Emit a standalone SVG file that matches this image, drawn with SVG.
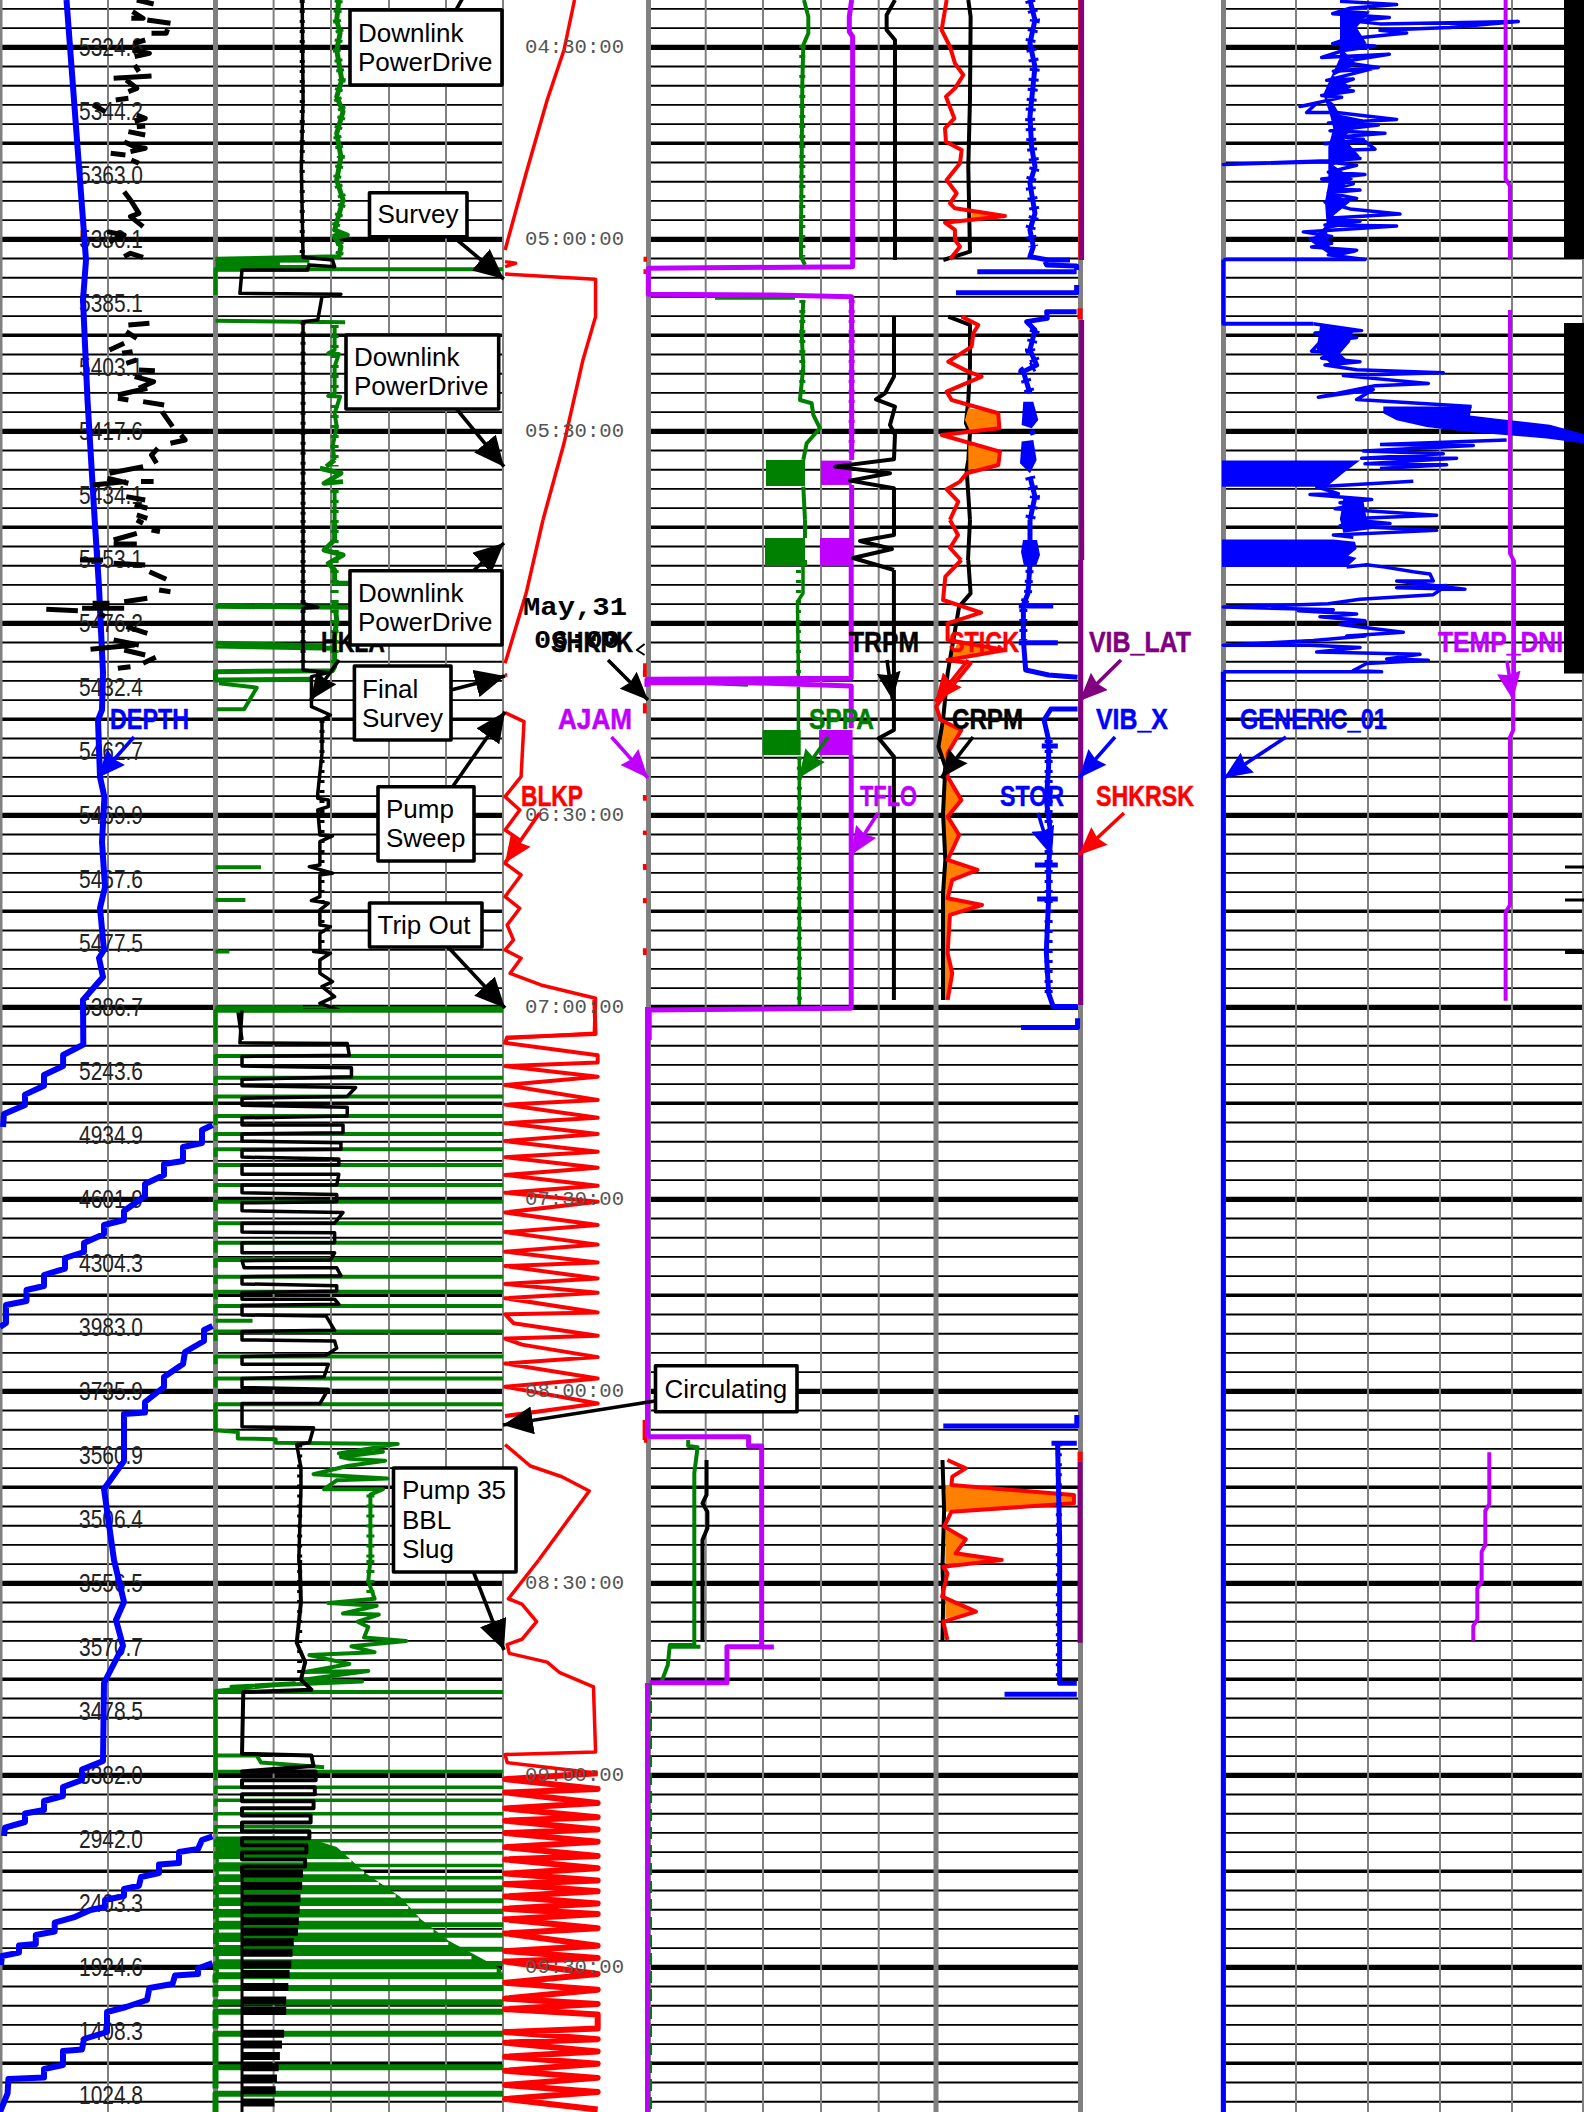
<svg xmlns="http://www.w3.org/2000/svg" width="1584" height="2112" viewBox="0 0 1584 2112">
<style>
path{vector-effect:non-scaling-stroke;stroke-linejoin:round;fill:none}
.thin{stroke:#000;stroke-width:1.9}.med{stroke:#000;stroke-width:3.6}.hvy{stroke:#000;stroke-width:5.2}
.vg{stroke:#808080;stroke-width:2}.sep{fill:#808080}
.dep{font:25px "Liberation Sans",Arial,sans-serif;fill:#222}
.tim{font:20px "Liberation Mono","Courier New",monospace;fill:#555}
.tb{font:bold 26px "Liberation Mono","Courier New",monospace;fill:#000}
.lab{font:bold 30px "Liberation Sans",Arial,sans-serif;stroke-width:.5}
.box{fill:#fff;stroke:#000;stroke-width:3.6;stroke-linejoin:round}
.bt{font:26px "Liberation Sans",Arial,sans-serif;fill:#000}
.k{stroke:#000}.g{stroke:#008000}.b{stroke:#00f}.r{stroke:#f00}.p{stroke:#bf00ff}.d{stroke:#800080}
.kf{fill:#000!important}.gf{fill:#008000!important}.bf{fill:#00f!important}.pf{fill:#bf00ff!important}.of{fill:#ff8000!important}.wf{fill:#fff!important}
.s2{stroke-width:2}.s3{stroke-width:3}.s35{stroke-width:3.5}.s4{stroke-width:4}.s5{stroke-width:5}.s6{stroke-width:6}.s8{stroke-width:8}.s10{stroke-width:10}
.j{stroke-dasharray:3 7}
.ar{stroke-width:3.6;fill:none}
</style>
<defs>
<marker id="mK" markerUnits="userSpaceOnUse" viewBox="0 0 30 28" refX="30" refY="14" markerWidth="30" markerHeight="28" orient="auto"><polygon points="0,0 30,14 0,28" fill="#000"/></marker>
<marker id="mk" markerUnits="userSpaceOnUse" viewBox="0 0 28 24" refX="28" refY="12" markerWidth="28" markerHeight="24" orient="auto"><polygon points="0,0 28,12 0,24 3,12" fill="#000"/></marker>
<marker id="mb" markerUnits="userSpaceOnUse" viewBox="0 0 28 24" refX="28" refY="12" markerWidth="28" markerHeight="24" orient="auto"><polygon points="0,0 28,12 0,24 3,12" fill="#00f"/></marker>
<marker id="mr" markerUnits="userSpaceOnUse" viewBox="0 0 28 24" refX="28" refY="12" markerWidth="28" markerHeight="24" orient="auto"><polygon points="0,0 28,12 0,24 3,12" fill="#f00"/></marker>
<marker id="mp" markerUnits="userSpaceOnUse" viewBox="0 0 28 24" refX="28" refY="12" markerWidth="28" markerHeight="24" orient="auto"><polygon points="0,0 28,12 0,24 3,12" fill="#bf00ff"/></marker>
<marker id="mg" markerUnits="userSpaceOnUse" viewBox="0 0 28 24" refX="28" refY="12" markerWidth="28" markerHeight="24" orient="auto"><polygon points="0,0 28,12 0,24 3,12" fill="#008000"/></marker>
<marker id="md" markerUnits="userSpaceOnUse" viewBox="0 0 28 24" refX="28" refY="12" markerWidth="28" markerHeight="24" orient="auto"><polygon points="0,0 28,12 0,24 3,12" fill="#800080"/></marker>
<g id="tile">
<path class="hvy" d="M0 0H1584"/>
<path class="med" d="M0 96H1584"/>
<path class="thin" d="M0 19.2H1584M0 38.4H1584M0 57.6H1584M0 76.8H1584M0 115.2H1584M0 134.4H1584M0 153.6H1584M0 172.8H1584"/>
</g>
</defs>
<rect width="1584" height="2112" fill="#fff"/>
<g id="grid">
<use href="#tile" y="-144.7"/><use href="#tile" y="47.3"/><use href="#tile" y="239.3"/><use href="#tile" y="431.3"/><use href="#tile" y="623.3"/><use href="#tile" y="815.3"/><use href="#tile" y="1007.3"/><use href="#tile" y="1199.3"/><use href="#tile" y="1391.3"/><use href="#tile" y="1583.3"/><use href="#tile" y="1775.3"/><use href="#tile" y="1967.3"/>
<rect x="503" width="143" height="2112" fill="#fff"/><rect x="1083" width="138" height="2112" fill="#fff"/>
<path class="vg" d="M108 0V2112M273.6 0V2112M331 0V2112M389 0V2112M446 0V2112M503 0V2112M705.7 0V2112M763 0V2112M821 0V2112M878.7 0V2112M1296 0V2112M1368 0V2112M1440 0V2112M1512 0V2112"/>
<rect class="sep" x="0" width="2.5" height="2112"/><rect class="sep" x="213" width="5" height="2112"/><rect class="sep" x="646" width="5" height="2112"/><rect class="sep" x="933.5" width="5" height="2112"/><rect class="sep" x="1078" width="5" height="2112"/><rect class="sep" x="1221" width="5" height="2112"/><rect class="sep" x="1582" width="2" height="2112"/>
<rect x="1564" y="0" width="20" height="259"/><rect x="1564" y="323" width="20" height="350.500"/>
<rect x="1565" y="865.500" width="19" height="3"/><rect x="1565" y="898.500" width="19" height="3"/><rect x="1565" y="950" width="19" height="4"/>
</g>
<g id="depth-scale">
<text class="dep" x="79" y="56" textLength="64" lengthAdjust="spacingAndGlyphs">5324.6</text>
<text class="dep" x="79" y="120" textLength="64" lengthAdjust="spacingAndGlyphs">5344.2</text>
<text class="dep" x="79" y="184" textLength="64" lengthAdjust="spacingAndGlyphs">5363.0</text>
<text class="dep" x="79" y="248" textLength="64" lengthAdjust="spacingAndGlyphs">5380.1</text>
<text class="dep" x="79" y="312" textLength="64" lengthAdjust="spacingAndGlyphs">5385.1</text>
<text class="dep" x="79" y="376" textLength="64" lengthAdjust="spacingAndGlyphs">5403.1</text>
<text class="dep" x="79" y="440" textLength="64" lengthAdjust="spacingAndGlyphs">5417.6</text>
<text class="dep" x="79" y="504" textLength="64" lengthAdjust="spacingAndGlyphs">5434.1</text>
<text class="dep" x="79" y="568" textLength="64" lengthAdjust="spacingAndGlyphs">5453.1</text>
<text class="dep" x="79" y="632" textLength="64" lengthAdjust="spacingAndGlyphs">5476.2</text>
<text class="dep" x="79" y="696" textLength="64" lengthAdjust="spacingAndGlyphs">5432.4</text>
<text class="dep" x="79" y="760" textLength="64" lengthAdjust="spacingAndGlyphs">5462.7</text>
<text class="dep" x="79" y="824" textLength="64" lengthAdjust="spacingAndGlyphs">5469.9</text>
<text class="dep" x="79" y="888" textLength="64" lengthAdjust="spacingAndGlyphs">5467.6</text>
<text class="dep" x="79" y="952" textLength="64" lengthAdjust="spacingAndGlyphs">5477.5</text>
<text class="dep" x="79" y="1016" textLength="64" lengthAdjust="spacingAndGlyphs">5386.7</text>
<text class="dep" x="79" y="1080" textLength="64" lengthAdjust="spacingAndGlyphs">5243.6</text>
<text class="dep" x="79" y="1144" textLength="64" lengthAdjust="spacingAndGlyphs">4934.9</text>
<text class="dep" x="79" y="1208" textLength="64" lengthAdjust="spacingAndGlyphs">4601.9</text>
<text class="dep" x="79" y="1272" textLength="64" lengthAdjust="spacingAndGlyphs">4304.3</text>
<text class="dep" x="79" y="1336" textLength="64" lengthAdjust="spacingAndGlyphs">3983.0</text>
<text class="dep" x="79" y="1400" textLength="64" lengthAdjust="spacingAndGlyphs">3735.9</text>
<text class="dep" x="79" y="1464" textLength="64" lengthAdjust="spacingAndGlyphs">3560.9</text>
<text class="dep" x="79" y="1528" textLength="64" lengthAdjust="spacingAndGlyphs">3506.4</text>
<text class="dep" x="79" y="1592" textLength="64" lengthAdjust="spacingAndGlyphs">3556.5</text>
<text class="dep" x="79" y="1656" textLength="64" lengthAdjust="spacingAndGlyphs">3570.7</text>
<text class="dep" x="79" y="1720" textLength="64" lengthAdjust="spacingAndGlyphs">3478.5</text>
<text class="dep" x="79" y="1784" textLength="64" lengthAdjust="spacingAndGlyphs">3382.0</text>
<text class="dep" x="79" y="1848" textLength="64" lengthAdjust="spacingAndGlyphs">2942.0</text>
<text class="dep" x="79" y="1912" textLength="64" lengthAdjust="spacingAndGlyphs">2403.3</text>
<text class="dep" x="79" y="1976" textLength="64" lengthAdjust="spacingAndGlyphs">1924.6</text>
<text class="dep" x="79" y="2040" textLength="64" lengthAdjust="spacingAndGlyphs">1408.3</text>
<text class="dep" x="79" y="2104" textLength="64" lengthAdjust="spacingAndGlyphs">1024.8</text>
</g>
<g id="curves">
<path class="b s6" d="M66.500 0L86 260L83 300L87.500 400L94.700 520L99 587L103 673L102 710L98 720L100 777L104.400 797L102 842L105 887L100 908L104 950L99 958L103 977L83 1000L83.300 1044.600L63.100 1055L63.100 1066L44 1075L44 1085.700L25 1094.600L25 1105L4 1114L3 1127M212.500 1125L202 1130L202 1143L183 1147L183 1161L164 1164L164 1175L145 1184L145 1196L124 1211L124 1220L104 1225L104 1234L84 1243L84 1252L65 1258L65 1268.600L44 1275L44 1286L26.500 1290L26.500 1301L6 1305L6 1323L0 1327M212.500 1326L204 1330L204 1341L185 1352L183 1364L164 1377L164 1387L145 1402L145 1412.500L124 1414L124 1461L104 1489L114 1560L124 1602L116 1620L123 1646L104 1683L103 1761L82 1769.500L82 1780L63 1787L63 1796L44 1801L44 1810L25 1813.500L25 1822L5 1827.600L4 1836M212.500 1836.400L202 1840L198 1849L179 1852L179 1863L159 1864.600L159 1873L141 1877L139 1885.700L124 1889L124 1896L105 1900L105 1907L90.500 1910L73.600 1917.400L54.700 1922.700L54.700 1931.500L35.800 1935L35.800 1944L19 1945.600L19 1952.600L2 1956L1 1965M212.500 1963L198 1968.500L198 1974L175 1975.600L172.500 1984L149.400 1988L147 2000L126 2007L107 2012L107 2032L84 2039L82 2049.400L63 2051L63 2065L44 2069L44 2077.600L8.400 2079L7.600 2093.400L0 2112"/>
<g transform="scale(.4209 .3333)">
<path class="k s5" d="M325 0L365 12M315 35L340 55L312 55M350 60L405 70M360 100L395 100L398 88M318 130L345 120M315 150L355 160L320 170M320 195L330 215M270 235L360 228M300 240L325 265L305 275M275 300L305 295M222 315L250 335M325 345L345 355L320 365M325 380L345 378M305 395L345 405M295 425L320 440L345 445L310 455M263 460L298 465M312 480L330 490M295 575L310 600L320 620L330 640L310 650L340 680M255 695L295 705L260 725M295 770L310 760L340 772M305 975L355 970M300 995L325 1015M260 1050L295 1030M290 1060L315 1055M325 1080L300 1090M330 1110L368 1112M320 1130L365 1145L330 1165M280 1185L350 1165M280 1195L305 1200M340 1205L390 1215M385 1235L410 1280M405 1330L440 1320L430 1305M375 1345L360 1365L372 1390M260 1420L340 1400M255 1435L305 1450M220 1455L300 1445M335 1445L365 1445M300 1490L345 1500M320 1515L350 1525M325 1545L350 1555"/>
<path class="g s5" d="M805 0L800 60L808 100L800 150L812 240L800 290L815 335L800 400L810 470L800 540L815 600L795 690L825 705L795 712L810 740L805 770L512 778"/>
<path class="g s8 j" d="M805 0L800 60L808 100L800 150L812 240L800 290L815 335L800 400L810 470L800 540L815 600L795 690L810 740L805 770M795 975V1400M795 1470V1560"/>
<path class="g s5" d="M760 1405L810 1420L770 1450L815 1445M775 1400L795 1380"/>
<path class="gf" d="M512 775H735V815H512Z"/><path class="wf" d="M665 788H730V795H665Z"/>
<path class="g s4" d="M1195 808H512V885M512 962L820 967M795 975L795 1050L780 1060L805 1062L795 1100L795 1180L780 1188L808 1190L795 1240L800 1280L790 1340L795 1380M795 1470L795 1560"/>
<path class="k s35" d="M718 0L720 300L716 500L720 772L790 780L795 800L735 795L730 810L575 810L570 880L810 883L765 890L755 960L720 965L720 1560"/>
<path class="k s5 j" d="M718 0V770M720 965V1560"/>
<path class="r s35" d="M1365 0L1340 150L1300 300L1250 520L1200 750M1200 785L1225 790L1200 800M1200 822L1415 838L1415 950L1385 1080L1340 1330L1290 1560M1533 770V785M1533 808V822"/>
</g>
<g transform="translate(0 520) scale(.4209 .3333)">
<path class="k s5" d="M325 0L340 10M360 30L380 35M270 60L325 40M270 72L325 72M190 120L245 120M270 130L345 135M355 155L395 178M378 210L405 215M295 245L350 235M220 250L260 250M110 268L185 272M195 265L295 265M235 280L250 290M300 320L350 340M215 388L320 375M270 360L330 375M295 390L345 405M340 430L370 412M280 445L310 440"/>
<path class="g s5" d="M795 0L795 60L770 90L815 105L780 130L795 150L795 190L830 190M512 259L830 262M795 240L800 300L795 350L795 440L790 452L512 455V480L740 478M512 370L770 378M512 378L795 385"/>
<path class="g s8 j" d="M795 0V440"/>
<path class="g s4" d="M520 490L610 503L580 568L515 568M512 1042H620M512 1140H583M512 1295H545M512 1465H1195"/>
<path class="k s35" d="M720 0L720 250L755 262L720 265L720 450L780 458L740 470L740 560L785 585L765 600L765 700L755 820L755 835L780 840L780 860L755 870L760 945L790 948L760 965L760 1035L735 1040L790 1060L760 1065L760 1130L740 1142L780 1150L760 1170L760 1215L785 1220L760 1240L760 1295L745 1295L785 1300L760 1320L760 1360L790 1385L765 1400L795 1430L760 1450L805 1470L565 1472L575 1560"/>
<path class="k s5 j" d="M720 0V450M765 600V1295"/>
<path class="r s35" d="M1290 0L1250 220L1200 430M1200 465H1205M1200 578L1245 605L1238 770L1200 830L1235 870L1200 930L1235 960L1200 1030L1238 1065L1200 1130L1235 1165L1205 1215L1220 1260L1200 1290L1238 1315L1212 1360L1285 1395L1415 1435L1412 1540L1205 1555M1532 430V470M1532 555V580M1532 828V842M1532 932V945M1532 1038V1050M1532 1135V1150M1532 1290V1305"/>
</g>
<g transform="translate(0 1000) scale(.4209 .3571)">
<path class="g s4" d="M512 20H720M1195 30H512V120M1195 157H512V185M1195 218H512V240M1195 270H512V295M1195 325H512V350M1195 375H512V395M1195 418H512V440M1195 462H512V488M1195 518H512V540M1195 565H512V590M1195 625H512V650M1195 680H512V708M1195 728H512V750M1195 775H512V795M1195 817H512V838M1195 857H512V885M1195 928H512V955M512 898H600M1195 998H512V1020M1195 1060H512V1085M1195 1132H512V1205L565 1210L565 1228L655 1230L655 1240L945 1243L805 1270L910 1265L810 1280L830 1285L915 1290L825 1305L745 1328L920 1340L800 1345L770 1370L910 1370L880 1385L880 1568"/>
<path class="g s8 j" d="M880 1385V1568"/>
<path class="k s35" d="M575 30L570 120L825 122L830 155L575 158L575 185L835 190L835 215L575 222L575 240L845 245L825 270L575 275L575 295L825 300L825 325L575 330L575 350L815 350L815 372L575 375L575 395L810 400L810 418L575 420L575 440L805 445L805 462L575 462L575 488L805 488L800 518L575 518L575 540L800 545L800 565L575 568L575 590L815 595L795 625L575 625L575 650L795 652L795 680L575 680L575 708L795 708L785 728L575 730L580 750L800 750L810 772L575 775L575 795L800 800L800 815L575 820L575 838L795 838L805 852L575 855L575 882L775 885L795 925L575 928L575 952L795 955L800 975L775 995L575 998L575 1020L780 1020L770 1055L575 1060L575 1085L780 1090L760 1130L575 1130L575 1195L745 1198L735 1240L705 1245L715 1310L715 1370L710 1568"/>
<path class="k s5 j" d="M712 1245V1568"/>
<path class="r s4" d="M1412 0L1415 95L1205 105L1200 120L1420 155L1420 175L1200 185L1420 215L1200 238L1420 280L1200 293L1420 330L1200 345L1420 375L1200 395L1420 425L1200 440L1420 470L1200 490L1420 520L1200 540L1420 565L1200 595L1420 630L1200 650L1420 685L1200 705L1420 735L1200 745L1420 780L1200 795L1420 820L1200 835L1420 875L1200 880L1220 905L1420 940L1200 948L1240 965L1420 1000L1200 1018L1420 1060L1200 1083L1420 1130L1200 1165"/>
<path class="r s35" d="M1200 1245L1260 1305L1335 1335L1400 1375L1280 1568M1534 1185V1240"/>
</g>
<g transform="translate(0 1560) scale(.4209 .3523)">
<path class="g s4" d="M880 0L875 60L890 110L780 122L895 130L815 152L900 155L850 175L875 190L865 220L965 230L835 245L890 262L735 270L830 295L725 318L875 315L720 340L860 345L550 360L700 350L512 372V600M1195 375H512M512 555H610L620 575L770 588"/>
<path class="g s8 j" d="M880 0V110"/>
<path class="gf" d="M512 785H720L800 815L870 890L950 955L1000 1020L1065 1080L1190 1160L1195 1190H512Z"/>
<path class="wf" d="M520 849H835v9H520ZM520 884H865v8H520ZM520 914H900v9H520ZM520 949H940v9H520ZM520 982H970v9H520ZM520 1015H995v9H520ZM520 1049H1030v9H520ZM520 1084H1065v9H520ZM520 1124H1120v9H520ZM520 1162H1180v8H520Z"/>
<path class="g s35" d="M1195 600H512V625M1195 645H512V665M1195 682H512V700M1195 720H512V740M1195 757H512V778M1195 797H512V815M1195 832H512V850M1195 867H512V885M1195 902H512V920"/>
<path class="g s5" d="M1195 930H512V950M1195 967H512V985M1195 998H512V1020M1195 1035H512V1050M1195 1065H512V1090M1195 1105H512V1125M1195 1145H512V1165"/>
<path class="g s6" d="M1195 1180H512V1200M1195 1215H512V1240M1195 1255H512V1270M1195 1282H512V1330M1195 1345H512V1430M1195 1440H512V1500M1195 1515H512V1568"/>
<path class="k s4" d="M712 0L715 120L705 235L725 290L715 340L740 368L578 375L575 550L740 555L745 585L575 600H750V625H575V645H748V665H575V685H745V705H575V725H738V745H575V770H735V790H575V810H728V830H575V850H725V870H575V890"/>
<path class="k s5 j" d="M712 0V340"/>
<path class="k s3" d="M575 880V1568"/>
<path class="k s8" d="M575 890H720M575 925H718M575 960H714M575 993H712M575 1025H710M575 1055H708M575 1085H698M575 1115H695M575 1148H692M575 1175H688M575 1212H685M575 1250H680M575 1280H680M575 1345H675M575 1375H670M575 1408H665M575 1440H662M575 1472H658M575 1505H655M575 1540H652"/>
<path class="r s35" d="M1280 0L1208 110L1240 125L1275 175L1240 225L1205 240L1210 265L1300 290L1330 320L1410 360L1415 545L1200 552L1205 575L1420 605"/>
<path class="r s6" d="M1420 605L1200 622L1420 650L1200 660L1420 690L1200 705L1420 730L1200 740L1420 765L1200 775L1420 800L1200 815L1420 840L1200 850L1420 875L1200 890L1420 910L1200 920L1420 940L1200 955L1420 975L1200 990L1420 1005L1200 1020L1420 1045L1200 1060L1420 1095L1200 1110L1420 1130L1200 1140L1420 1175L1200 1200L1420 1220L1200 1245L1420 1260L1200 1275L1420 1290V1330L1200 1340L1420 1360L1200 1370L1420 1395L1200 1410L1420 1430L1200 1450L1420 1470L1200 1490L1420 1510L1200 1530L1420 1560"/>
</g>
<g id="track3" transform="translate(640 0) scale(.3333 .3333)">
<path class="g s4" d="M492 0L505 50L505 100L490 135L487 250L485 500L483 700L483 770L495 795M490 900L485 1000L490 1100L480 1200L515 1210L520 1245L540 1285L500 1330L490 1380M490 1460L495 1560M225 893H465"/>
<path class="g s6 j" d="M487 135V770M487 900V1200"/>
<path class="gf" d="M378 1380H495V1458H378Z"/><path class="pf" d="M543 1382H635V1455H543Z"/>
<path class="p s5" d="M635 0L628 50L628 95L638 110L638 800L25 805L25 883L400 885L635 890L635 1380M635 1455V1560"/>
<path class="p s6 j" d="M635 900V1380"/>
<path class="k s4" d="M765 0L740 45L740 90L765 120L765 780M762 950L762 1130L735 1180L708 1198L765 1220L750 1275L765 1305L762 1378L585 1400L750 1420L630 1442L762 1465L762 1560M985 0L992 50L990 300L985 500L990 755L910 780M925 950L990 975L990 1100L985 1200L978 1270L990 1300L985 1380L980 1410L990 1560"/>
<path class="of" d="M995 632L1095 648L995 665ZM985 1225L1075 1240L1078 1285L990 1293L975 1260ZM985 1335L1080 1355L1075 1395L985 1410Z"/>
<path class="r s4" d="M920 0L905 90L930 140L945 190L970 225L945 265L918 290L943 355L915 385L918 425L965 450L960 490L920 540L950 580L930 610L945 625L1095 648L915 668L945 690L945 720L960 740L930 778M965 950L1015 975L1000 1000L995 1040L925 1085L985 1115L1025 1130L920 1175L935 1200L1075 1240L1078 1285L905 1305L1080 1355L1075 1395L980 1420L960 1445L920 1468L955 1505L930 1560"/>
<path class="b s5" d="M1170 0L1185 60L1170 130L1185 200L1175 300L1170 350L1175 440L1185 500L1170 550L1185 640L1170 690L1180 740L1170 770L1225 780H1290M1215 785L1220 795L1310 798V810M1012 815H1310M948 878H1310V855M1310 935H1220L1222 955L1160 965L1185 990L1170 1050L1190 1095L1150 1115L1170 1180M1185 1295L1170 1300M1170 1430L1185 1490L1170 1560"/>
<path class="b s10 j" d="M1170 0L1185 60L1170 130L1185 200L1175 300L1170 350L1175 440L1185 500L1170 550L1185 640L1170 690L1180 740M1185 990L1170 1050L1190 1095L1150 1115L1170 1180M1170 1430L1185 1490L1170 1560"/>
<path class="bf" d="M1150 1205H1180L1195 1260L1175 1285L1145 1275ZM1145 1325L1180 1320L1190 1380L1170 1420L1140 1390Z"/>
<path class="r s2" d="M1318 0V780"/>
<path class="d s5" d="M1325 0V780M1325 960V1560"/>
<path class="r s5" d="M1320 925V958"/>
</g>
<g id="track-gap">
<path class="gf" d="M765 538H805V566H765Z"/><path class="pf" d="M820 538H851V566H820Z"/>
<path class="g s4" d="M805 520V538M805 566V560"/>
<path class="p s5" d="M851.700 520V560"/>
<path class="k s4" d="M894 520V535L860 541L892 549L853 558L894 570M970 520L968 560"/>
<path class="r s4" d="M950 520L958 535L950 548L961 560"/>
<path class="b s5" d="M1030 520V540"/>
<path class="bf" d="M1023 540H1037L1040 555L1036 566H1024L1021 552Z"/>
<path class="d s5" d="M1081.700 520V560"/>
</g>
<g transform="translate(500 560) scale(.4591 .3333)">
<path class="g s35" d="M660 0L660 100L648 125L650 350M320 362L540 375M650 380V510M652 590V1335"/>
<path class="g s5 j" d="M650 0V350M652 590V1335"/>
<path class="gf" d="M572 510H655V585H572Z"/><path class="pf" d="M695 510H768V585H695Z"/>
<path class="p s5" d="M765 0V355L320 358V380M320 368H540L765 378V505M765 585V1345L325 1350V1440"/>
<path class="k s4" d="M858 30V510L825 535L858 590V1320"/>
<path class="of" d="M1000 240L1100 270L980 295ZM970 480L1005 510L975 580L975 650L1005 720L975 770L1000 825L975 900L1040 930L985 960L975 1015L1050 1035L980 1065L975 1180L985 1240L975 1320L965 1320L965 1000L970 900L965 760L970 620L955 560Z"/>
<path class="k s4" d="M1020 0L1025 100L1000 140L975 340L965 480L955 560L970 620L965 760L970 900L965 1000L965 1320"/>
<path class="r s4" d="M1005 0L970 50L965 120L1048 158L975 190L975 240L1100 270L975 300L1025 310L960 420L950 440L960 480L1005 510L975 580L975 650L1005 720L975 770L1000 825L975 900L1040 930L985 960L975 1015L1050 1035L980 1065L975 1180L985 1240L975 1320"/>
<path class="b s5" d="M1155 0L1150 100L1140 135M1130 138H1205M1140 135L1140 240M1130 248H1215M1140 240L1145 330L1195 345L1258 352M1258 447H1200L1185 480L1195 540M1180 558H1215M1195 540L1195 620L1190 720L1200 825L1195 915M1165 915H1215M1195 915V1015M1170 1017H1215M1195 1015L1190 1175L1195 1300L1205 1340H1258M1135 1403H1258V1375"/>
<path class="b s8 j" d="M1155 0L1150 100L1140 135V240M1195 540V1300"/>
<path class="d s5" d="M1265 0V1335"/>
<path class="k s2" d="M315 252L298 270L315 285"/>
<path class="r s35" d="M315 330V350M315 430V460M315 705V720M315 812V825M315 912V925M315 1015V1028M315 1165V1180"/>
</g>
<g transform="translate(480 1340) scale(.4082 .3333)">
<path class="g s4" d="M510 300L510 318L533 322L525 400L525 915H465L460 975L445 1025M465 920H540"/>
<path class="p s5" d="M412 290H658V318H690V920H605V1028H415M690 921H720"/>
<path class="k s4" d="M555 360V465L545 490L557 515V565L545 600V905"/>
<path class="of" d="M1140 435L1455 465V490L1155 515H1140ZM1140 570L1190 598L1165 640L1278 660L1140 672ZM1140 775L1215 815L1140 835Z"/>
<path class="k s4" d="M1133 360L1137 510L1133 680L1135 760L1133 900"/>
<path class="r s4" d="M1145 360L1190 385L1157 410L1155 435L1455 465V490L1155 515L1137 560L1190 598L1165 640L1278 660L1135 680L1145 700L1132 770L1215 815L1135 845L1145 900"/>
<path class="b s5" d="M1135 258H1462V225M1400 310H1462M1415 310L1420 600L1420 1030H1462M1285 1063H1462"/>
<path class="b s6 j" d="M1418 310V1030"/>
<path class="r s5" d="M1470 335V365"/><path class="d s5" d="M1470 365V908"/>
<path class="r s3" d="M402 240V300"/>
</g>
<path class="p s5" d="M647.500 1007V1437M647.500 1683V2112"/>
<path class="g s2" d="M651 1683V2112" stroke-dasharray="12 6"/>
<g transform="translate(1200 0) scale(.3333 .4592)">
<path class="bf" d="M66 1003H480L430 1030L380 1060H66ZM66 1175H400L465 1180L470 1195L445 1210L470 1215L440 1235H66ZM550 885L815 885L810 905L890 912L1050 925L1150 945V965L1040 955L800 940L680 930L590 915L550 900Z"/>
<path class="bf" d="M420 20L510 25L470 60L500 95L430 110L470 140L400 165L455 190L380 215L400 225L420 250L490 260L430 300L480 340L400 360L460 390L400 420L450 440L400 470L470 485L380 500L390 540L470 550L400 560L330 525L380 490L375 440L385 400L385 320L400 280L390 250L370 205L395 165L420 125ZM360 710L460 720L450 745L420 770L450 790L400 800L350 760ZM430 1085L490 1090L500 1130L540 1150L430 1160L420 1130Z"/>
<path class="b s35" d="M420 3L590 10L450 18L398 30L568 38L460 46L540 52L955 47L750 60L540 66L620 72L440 85L398 95L525 100L430 110L365 125L568 118L420 135L535 147L400 155L515 150L380 175L460 172L385 190L460 198L365 208L425 212L300 232L350 225L320 245L410 245L590 260L385 268L535 272L390 285L555 290L425 298L490 303L375 313L495 308L525 325L395 328L480 345L385 350L70 358L380 352L470 360L385 375L495 380L365 390L460 400L395 412L480 414L385 420L470 432L375 440L450 455L600 466L395 475L480 482L375 490L590 492L310 505L395 515L330 520L395 530L335 538L470 545L385 555L495 565L70 565"/>
<path class="b s4" d="M70 565V705L340 705"/>
<path class="b s35" d="M340 705L485 720L345 725L470 735L360 745L335 765L410 768L365 780L480 788L375 795L470 805L730 812L430 818L685 835L525 840L355 865L520 848L470 870L815 885M540 968L820 970L490 982L730 988L485 998L770 998L495 1010L740 1012L540 1020M920 958L540 968M640 1048L350 1060L415 1075L330 1077L515 1088L420 1095L480 1098L405 1108L710 1122L425 1130L570 1140L420 1145L710 1155L400 1165L460 1170M440 1235L500 1230L555 1235L640 1245L690 1250L700 1265L590 1265L795 1283L590 1280L740 1275L700 1295L480 1305L385 1315L70 1322L400 1328L295 1330L470 1337L360 1343L495 1352L420 1360L610 1377L440 1385L495 1385L340 1395L70 1405L330 1405L480 1410L350 1420L660 1425L560 1435L685 1438L500 1445L460 1460L545 1463L70 1463"/>
<path class="b s5" d="M70 1463V4600"/>
<path class="p s4" d="M917 0V390L930 405V565M930 675V1205L942 1222V1470"/>
</g>
<g transform="translate(1200 680) scale(.3333 .3333)"><path class="p s4" d="M940 0V150L930 172V675L917 697V962"/></g>
<g transform="translate(1200 1400) scale(.3333 .3333)"><path class="p s4" d="M868 157V312L856 332V435L845 455V545L832 565V658L820 678V722"/></g>
</g>
<g id="time-scale">
<text class="tim" x="525" y="53" textLength="99" lengthAdjust="spacingAndGlyphs">04:30:00</text>
<text class="tim" x="525" y="245" textLength="99" lengthAdjust="spacingAndGlyphs">05:00:00</text>
<text class="tim" x="525" y="437" textLength="99" lengthAdjust="spacingAndGlyphs">05:30:00</text>
<text class="tb" x="523" y="615" textLength="104" lengthAdjust="spacingAndGlyphs">May,31</text>
<text class="tb" x="534" y="648" textLength="86" lengthAdjust="spacingAndGlyphs">06:00</text>
<text class="tim" x="525" y="821" textLength="99" lengthAdjust="spacingAndGlyphs">06:30:00</text>
<text class="tim" x="525" y="1013" textLength="99" lengthAdjust="spacingAndGlyphs">07:00:00</text>
<text class="tim" x="525" y="1205" textLength="99" lengthAdjust="spacingAndGlyphs">07:30:00</text>
<text class="tim" x="525" y="1397" textLength="99" lengthAdjust="spacingAndGlyphs">08:00:00</text>
<text class="tim" x="525" y="1589" textLength="99" lengthAdjust="spacingAndGlyphs">08:30:00</text>
<text class="tim" x="525" y="1781" textLength="99" lengthAdjust="spacingAndGlyphs">09:00:00</text>
<text class="tim" x="525" y="1973" textLength="99" lengthAdjust="spacingAndGlyphs">09:30:00</text>
</g>
<g id="labels">
<text class="lab" x="321" y="652" textLength="64" lengthAdjust="spacingAndGlyphs" fill="#000" stroke="#000">HKLA</text>
<text class="lab" x="551" y="652" textLength="82" lengthAdjust="spacingAndGlyphs" fill="#000" stroke="#000">SHKPK</text>
<text class="lab" x="849" y="652" textLength="70" lengthAdjust="spacingAndGlyphs" fill="#000" stroke="#000">TRPM</text>
<text class="lab" x="949" y="652" textLength="70" lengthAdjust="spacingAndGlyphs" fill="#f00" stroke="#f00">STICK</text>
<text class="lab" x="1089" y="652" textLength="102" lengthAdjust="spacingAndGlyphs" fill="#800080" stroke="#800080">VIB_LAT</text>
<text class="lab" x="1438" y="652" textLength="125" lengthAdjust="spacingAndGlyphs" fill="#bf00ff" stroke="#bf00ff">TEMP_DNI</text>
<text class="lab" x="110" y="729" textLength="79" lengthAdjust="spacingAndGlyphs" fill="#00f" stroke="#00f">DEPTH</text>
<text class="lab" x="558" y="729" textLength="74" lengthAdjust="spacingAndGlyphs" fill="#bf00ff" stroke="#bf00ff">AJAM</text>
<text class="lab" x="809" y="729" textLength="65" lengthAdjust="spacingAndGlyphs" fill="#008000" stroke="#008000">SPPA</text>
<text class="lab" x="952" y="729" textLength="71" lengthAdjust="spacingAndGlyphs" fill="#000" stroke="#000">CRPM</text>
<text class="lab" x="1096" y="729" textLength="72" lengthAdjust="spacingAndGlyphs" fill="#00f" stroke="#00f">VIB_X</text>
<text class="lab" x="1240" y="729" textLength="147" lengthAdjust="spacingAndGlyphs" fill="#00f" stroke="#00f">GENERIC_01</text>
<text class="lab" x="521" y="806" textLength="62" lengthAdjust="spacingAndGlyphs" fill="#f00" stroke="#f00">BLKP</text>
<text class="lab" x="860" y="806" textLength="57" lengthAdjust="spacingAndGlyphs" fill="#bf00ff" stroke="#bf00ff">TFLO</text>
<text class="lab" x="1000" y="806" textLength="64" lengthAdjust="spacingAndGlyphs" fill="#00f" stroke="#00f">STOR</text>
<text class="lab" x="1096" y="806" textLength="98" lengthAdjust="spacingAndGlyphs" fill="#f00" stroke="#f00">SHKRSK</text>
</g>
<g id="connectors">
<line class="ar k" x1="339" y1="660" x2="310.600" y2="700" marker-end="url(#mk)"/>
<line class="ar k" x1="608" y1="660" x2="648" y2="700" marker-end="url(#mk)"/>
<line class="ar p" x1="611.500" y1="737" x2="648" y2="778" marker-end="url(#mp)"/>
<line class="ar b" x1="134" y1="737" x2="97.600" y2="778" marker-end="url(#mb)"/>
<line class="ar r" x1="539.600" y1="813" x2="505" y2="863" marker-end="url(#mr)"/>
<line class="ar k" x1="887" y1="660" x2="892.600" y2="700" marker-end="url(#mk)"/>
<line class="ar r" x1="968" y1="660" x2="935" y2="701.700" marker-end="url(#mr)"/>
<line class="ar d" x1="1121" y1="660" x2="1079.400" y2="701" marker-end="url(#md)"/>
<line class="ar g" x1="828" y1="737" x2="799" y2="778" marker-end="url(#mg)"/>
<line class="ar k" x1="973" y1="737" x2="941" y2="778" marker-end="url(#mk)"/>
<line class="ar b" x1="1115" y1="737" x2="1079" y2="778" marker-end="url(#mb)"/>
<line class="ar p" x1="878" y1="813" x2="851" y2="855" marker-end="url(#mp)"/>
<line class="ar b" x1="1038" y1="813" x2="1051" y2="855" marker-end="url(#mb)"/>
<line class="ar r" x1="1124" y1="813" x2="1079" y2="855" marker-end="url(#mr)"/>
<line class="ar p" x1="1507" y1="661" x2="1513" y2="700" marker-end="url(#mp)"/>
<line class="ar b" x1="1286" y1="737" x2="1224" y2="778" marker-end="url(#mb)"/>
<line class="ar k" x1="456" y1="10" x2="470" y2="-15"/>
<line class="ar k" x1="452.400" y1="236" x2="503.800" y2="279" marker-end="url(#mK)"/>
<line class="ar k" x1="456.600" y1="409" x2="504" y2="466.700" marker-end="url(#mK)"/>
<line class="ar k" x1="473" y1="571" x2="504" y2="543" marker-end="url(#mK)"/>
<line class="ar k" x1="451" y1="690" x2="505" y2="676" marker-end="url(#mK)"/>
<line class="ar k" x1="452.400" y1="787" x2="505" y2="711.700" marker-end="url(#mK)"/>
<line class="ar k" x1="448" y1="947" x2="505" y2="1008" marker-end="url(#mK)"/>
<line class="ar k" x1="655" y1="1401" x2="503" y2="1425" marker-end="url(#mK)"/>
<line class="ar k" x1="473.500" y1="1572" x2="504" y2="1650" marker-end="url(#mK)"/>
</g>
<g id="note-downlink-1"><rect class="box" x="350" y="10" width="152" height="75"/><text class="bt" x="358" y="42">Downlink</text><text class="bt" x="358" y="71">PowerDrive</text></g>
<g id="note-survey"><rect class="box" x="369.500" y="192.700" width="97.500" height="44"/><text class="bt" x="377.500" y="223">Survey</text></g>
<g id="note-downlink-2"><rect class="box" x="346" y="335" width="152.700" height="74"/><text class="bt" x="354" y="366">Downlink</text><text class="bt" x="354" y="395">PowerDrive</text></g>
<g id="note-downlink-3"><rect class="box" x="350" y="570.700" width="152" height="74.300"/><text class="bt" x="358" y="602">Downlink</text><text class="bt" x="358" y="631">PowerDrive</text></g>
<g id="note-final-survey"><rect class="box" x="354.400" y="666" width="96.600" height="74"/><text class="bt" x="362" y="698">Final</text><text class="bt" x="362" y="727">Survey</text></g>
<g id="note-pump-sweep"><rect class="box" x="378" y="786.700" width="96" height="74.300"/><text class="bt" x="386" y="818">Pump</text><text class="bt" x="386" y="847">Sweep</text></g>
<g id="note-trip-out"><rect class="box" x="369.500" y="903" width="112.500" height="44"/><text class="bt" x="377.500" y="934">Trip Out</text></g>
<g id="note-circulating"><rect class="box" x="655.500" y="1365.700" width="141.500" height="46"/><text class="bt" x="664.500" y="1398">Circulating</text></g>
<g id="note-pump35"><rect class="box" x="393.500" y="1468" width="122.500" height="104"/><text class="bt" x="402" y="1499">Pump 35</text><text class="bt" x="402" y="1528.600">BBL</text><text class="bt" x="402" y="1558">Slug</text></g>
</svg>
